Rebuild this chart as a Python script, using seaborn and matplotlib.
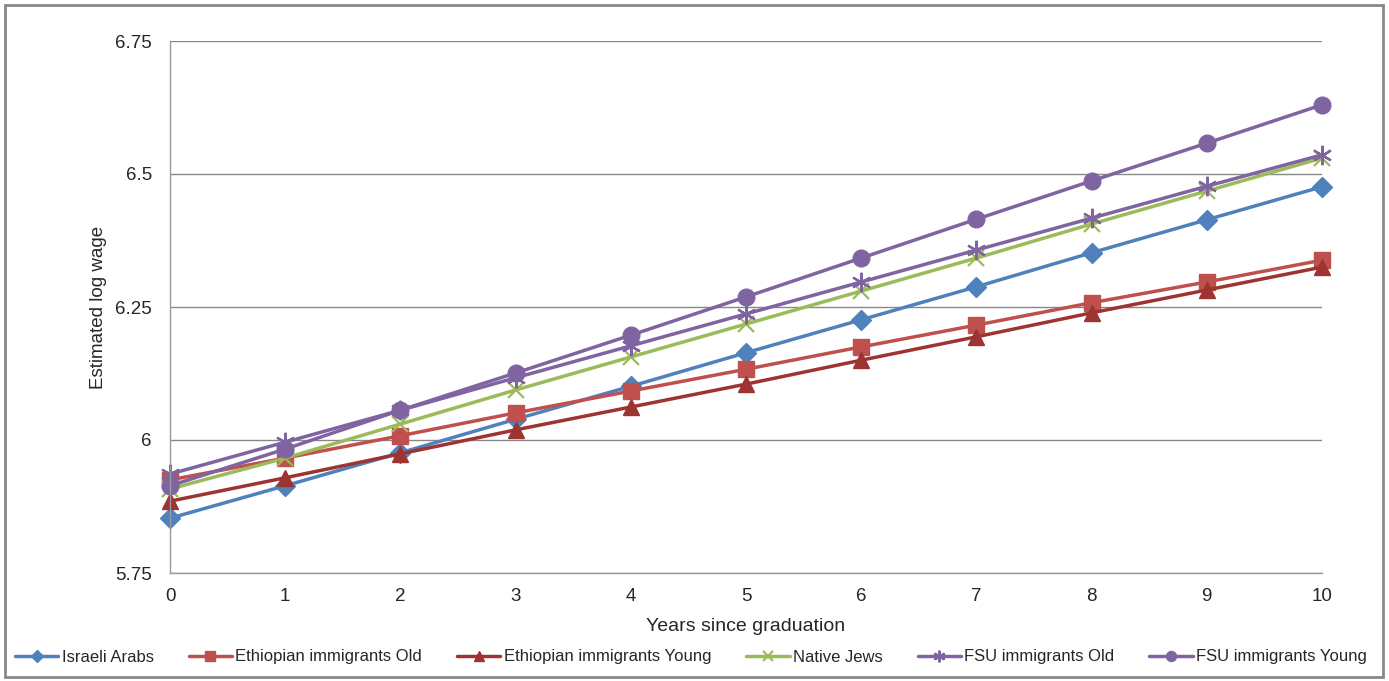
import numpy as np
import pandas as pd
import seaborn as sns
from matplotlib import pyplot as plt
from matplotlib.patches import Rectangle

years = list(range(11))
israeli_arabs = [5.853, 5.914, 5.976, 6.039, 6.101, 6.164, 6.226, 6.288, 6.352, 6.414, 6.476]
ethiopian_old = [5.925, 5.966, 6.008, 6.051, 6.092, 6.133, 6.175, 6.216, 6.258, 6.297, 6.338]
ethiopian_young = [5.885, 5.929, 5.974, 6.019, 6.062, 6.105, 6.150, 6.194, 6.239, 6.282, 6.325]
native_jews = [5.908, 5.966, 6.030, 6.094, 6.156, 6.218, 6.280, 6.342, 6.406, 6.468, 6.530]
fsu_old = [5.936, 5.996, 6.056, 6.117, 6.177, 6.237, 6.297, 6.357, 6.417, 6.477, 6.536]
fsu_young = [5.914, 5.983, 6.056, 6.126, 6.197, 6.269, 6.342, 6.415, 6.487, 6.558, 6.630]

names = ['Israeli Arabs', 'Ethiopian immigrants Old', 'Ethiopian immigrants Young',
         'Native Jews', 'FSU immigrants Old', 'FSU immigrants Young']
values = [israeli_arabs, ethiopian_old, ethiopian_young, native_jews, fsu_old, fsu_young]
colors = ['#4F81BD', '#C0504D', '#9E3431', '#9BBB59', '#8064A2', '#8064A2']
markers = ['D', 's', '^', 'x', '*', 'o']
msizes = [10, 11, 11, 11, 14, 12]

yticks = [5.75, 6.0, 6.25, 6.5, 6.75]
ytick_labels = ['5.75', '6', '6.25', '6.5', '6.75']

sns.set_style('white')
plt.rcParams['font.family'] = ['Liberation Sans', 'DejaVu Sans']

df = pd.DataFrame({'year': years * len(names),
                   'wage': sum(values, []),
                   'group': sum([[n] * len(years) for n in names], [])})

fig = plt.figure(figsize=(13.89, 6.81), dpi=100)
ax = fig.add_axes([170 / 1389, 1 - 573 / 681, (1322 - 170) / 1389, (573 - 41) / 681])

for name, c, m, ms in zip(names, colors, markers, msizes):
    sub = df[df['group'] == name]
    mew = 1.6 if m in ('x', '*') else 1
    if m == '*':
        m = (6, 2, 0)  # asterisk-like
    sns.lineplot(data=sub, x='year', y='wage', ax=ax, color=c, marker=m, markersize=ms,
                 linewidth=2.5, markeredgecolor=c, markeredgewidth=mew, label=name)

ax.set_xlim(0, 10)
ax.set_ylim(5.75, 6.75)
ax.set_xticks(years)
ax.set_yticks(yticks)
ax.set_yticklabels(ytick_labels)
ax.tick_params(axis='both', labelsize=13.5, length=5, color='#999999', direction='out')
ax.tick_params(axis='x', pad=6)
ax.tick_params(axis='y', pad=8)
ax.grid(axis='y', color='#888888', linewidth=1)
ax.set_axisbelow(True)
for s in ['top', 'right']:
    ax.spines[s].set_visible(False)
for s in ['left', 'bottom']:
    ax.spines[s].set_color('#999999')
    ax.spines[s].set_linewidth(1)
ax.set_xlabel('Years since graduation', fontsize=14, labelpad=9)
ax.set_ylabel('Estimated log wage', fontsize=13.5, labelpad=6)
ax.margins(x=0)
for line in ax.get_lines():
    line.set_clip_on(False)

ax.get_legend().remove()
h, l = ax.get_legend_handles_labels()
fig.legend(h, l, loc='center', bbox_to_anchor=(0.4975, 1 - 657 / 681), ncol=6, frameon=False,
           fontsize=12, handlelength=2.6, columnspacing=2.1, handletextpad=0.2, markerscale=0.6)

fig.patches.append(Rectangle((5 / 1389, 4 / 681), 1378 / 1389, 672 / 681, transform=fig.transFigure,
                             fill=False, edgecolor='#888888', linewidth=2))

plt.savefig('out.png', dpi=100)
